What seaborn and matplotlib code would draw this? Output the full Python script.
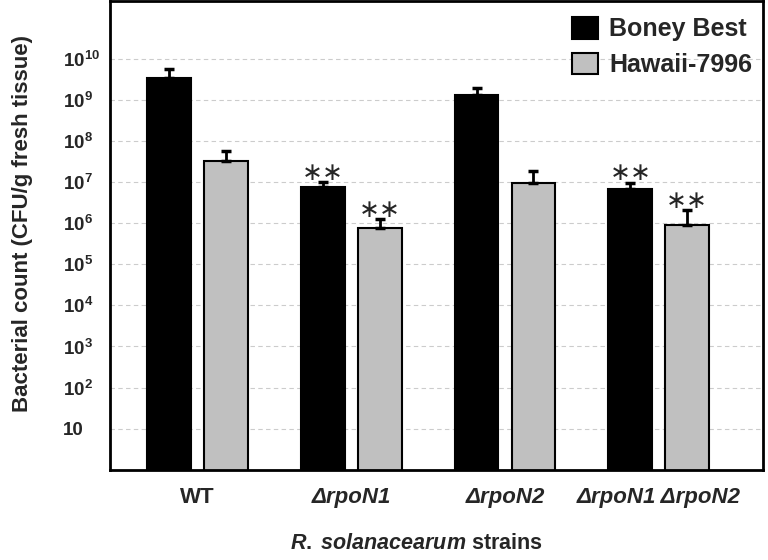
import numpy as np
import pandas as pd
import seaborn as sns
import matplotlib.pyplot as plt
from matplotlib.ticker import NullLocator

sns.set_style("white")
plt.rcParams["font.family"] = ["Liberation Sans", "DejaVu Sans"]
plt.rcParams["mathtext.fontset"] = "custom"
plt.rcParams["mathtext.rm"] = "Liberation Sans:bold"
plt.rcParams["mathtext.bf"] = "Liberation Sans:bold"
plt.rcParams["mathtext.it"] = "Liberation Sans:bold:italic"

# Data (CFU/g fresh tissue)
strains = ["WT", "ΔrpoN1", "ΔrpoN2", "ΔrpoN1 ΔrpoN2"]
cultivars = ["Boney Best", "Hawaii-7996"]
boney_best = [3.3e9, 7.5e6, 1.3e9, 6.8e6]
boney_best_se = [2.2e9, 2.5e6, 0.6e9, 2.7e6]
hawaii = [3.2e7, 7.5e5, 9.5e6, 8.8e5]
hawaii_se = [2.4e7, 5.0e5, 8.5e6, 1.2e6]
signif = ["", "**", "", "**"]
ytick_vals = [1e1, 1e2, 1e3, 1e4, 1e5, 1e6, 1e7, 1e8, 1e9, 1e10]
ytick_labels = ["10"] + [r"$\mathrm{10}^{\mathrm{%d}}$" % i for i in range(2, 11)]

df = pd.DataFrame({
    "strain": strains * 2,
    "cultivar": [cultivars[0]] * 4 + [cultivars[1]] * 4,
    "count": boney_best + hawaii,
})

fig = plt.figure(figsize=(7.68, 5.6), dpi=100)
ax = fig.add_axes([0.143, 0.161, 0.851, 0.837])

sns.barplot(data=df, x="strain", y="count", hue="cultivar",
            palette=["black", "#c0c0c0"], edgecolor="black", linewidth=1.5,
            width=0.74, gap=0.23, errorbar=None, ax=ax)
ax.set_yscale("log")

# upper error bars and significance stars
for cont, vals, errs in zip(ax.containers, [boney_best, hawaii], [boney_best_se, hawaii_se]):
    xs = [b.get_x() + b.get_width() / 2 for b in cont]
    ax.errorbar(xs, vals, yerr=[np.zeros(len(vals)), errs], fmt="none",
                ecolor="black", elinewidth=2, capsize=3.6, capthick=2.5)
    for x, v, e, s in zip(xs, vals, errs, signif):
        if s:
            ax.text(x, (v + e) * 1.7, s.replace("*", "∗"), ha="center", va="center",
                    fontsize=18, family="DejaVu Sans")

ax.set_ylim(1, 2.5e11)
ax.set_xlim(-0.57, 3.68)
ax.set_yticks(ytick_vals)
ax.set_yticklabels(ytick_labels)
ax.yaxis.set_minor_locator(NullLocator())
ax.tick_params(axis="both", length=0)
ax.tick_params(axis="y", pad=34, labelsize=13.5)
ax.tick_params(axis="x", pad=12, labelsize=16)
for lab in ax.get_yticklabels():
    lab.set_horizontalalignment("left")
    lab.set_fontweight("bold")
for lab in ax.get_xticklabels():
    lab.set_fontweight("bold")
    if lab.get_text().startswith("Δ"):
        lab.set_fontstyle("italic")

ax.yaxis.grid(True, linestyle=(0, (4, 3)), color="#cccccc", linewidth=0.8)
ax.set_axisbelow(True)
for sp in ax.spines.values():
    sp.set_visible(True)
    sp.set_color("black")
    sp.set_linewidth(2)

ax.set_ylabel("Bacterial count (CFU/g fresh tissue)", fontsize=16, fontweight="bold")
ax.yaxis.set_label_coords(-0.118, 0.525)
ax.set_xlabel(r"$\it{R.\;solanacearum}$ strains", fontsize=15.5, fontweight="bold")
ax.xaxis.set_label_coords(0.469, -0.134)

handles, labels = ax.get_legend_handles_labels()
ax.legend(handles, labels, loc="upper right", bbox_to_anchor=(1.006, 0.998), frameon=False,
          prop={"weight": "bold", "size": 18}, handlelength=1.05, handleheight=0.95,
          handletextpad=0.45, labelspacing=0.45, borderaxespad=0.2)

fig.savefig("out.png", dpi=100)
